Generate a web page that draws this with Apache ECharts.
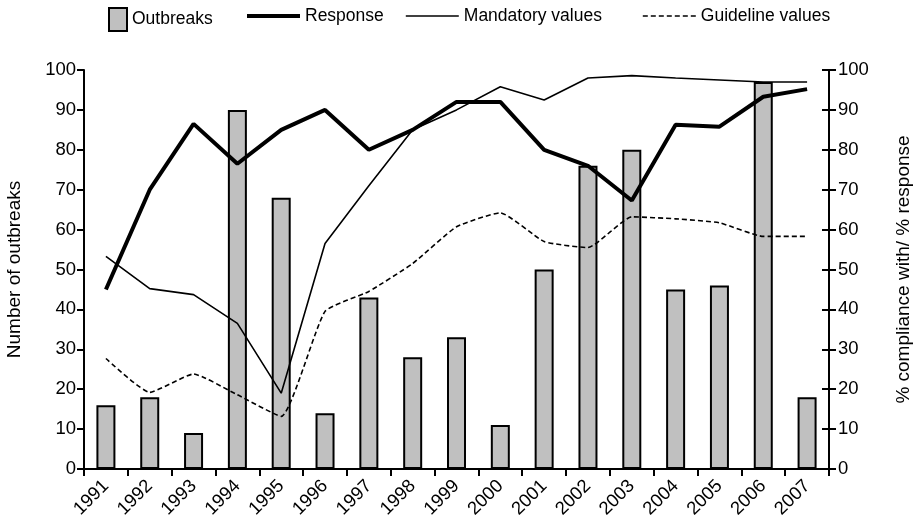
<!DOCTYPE html>
<html>
<head>
<meta charset="utf-8">
<script src="https://cdn.jsdelivr.net/npm/echarts@6/dist/echarts.min.js"></script>
<style>html,body{margin:0;padding:0;background:#fff}#c{width:914px;height:530px}</style>
</head>
<body>
<div id="c"></div>
<script>
const years = ['1991','1992','1993','1994','1995','1996','1997','1998','1999','2000','2001','2002','2003','2004','2005','2006','2007'];
const outbreaks = [16, 18, 9, 90, 68, 14, 43, 28, 33, 11, 50, 76, 80, 45, 46, 97, 18];
const response = [45, 70, 86.5, 76.5, 85, 90, 80, 85, 92, 92, 80, 76, 67.3, 86.3, 85.8, 93.3, 95.2];
const mandatory = [53.3, 45.2, 43.7, 36.5, 19, 56.5, 71, 85, 90, 95.8, 92.5, 98, 98.6, 98, 97.5, 97, 97];
const guideline = [27.7, 19.2, 23.8, 18.6, 13.2, 39.5, 44.5, 51.5, 60.7, 64.2, 57, 55.5, 63.2, 62.7, 61.7, 58.3, 58.3];
const yTicks = [0,10,20,30,40,50,60,70,80,90,100];

const FONT = 'Liberation Sans';
const chart = echarts.init(document.getElementById('c'), null, {renderer: 'canvas'});
const txt = {color: '#000', fontFamily: FONT, fontSize: 18.5};
const legendBase = {top: 2, itemGap: 10, textStyle: {color: '#000', fontFamily: FONT, fontSize: 17.5}, selectedMode: false,
  itemStyle: {opacity: 0, borderWidth: 0}, itemWidth: 53, itemHeight: 14};

chart.setOption({
  animation: false,
  backgroundColor: '#fff',
  legend: [
    {left: 103, top: 2, itemWidth: 18, itemHeight: 23, itemGap: 10, selectedMode: false,
     textStyle: {color: '#000', fontFamily: FONT, fontSize: 17.5},
     data: [{name: 'Outbreaks', icon: 'rect'}]},
    Object.assign({}, legendBase, {left: 240, lineStyle: {width: 4, color: '#000', type: 'solid'}, data: ['Response']}),
    Object.assign({}, legendBase, {left: 400, lineStyle: {width: 1.6, color: '#000', type: 'solid'}, data: ['Mandatory values']}),
    Object.assign({}, legendBase, {left: 637, lineStyle: {width: 1.6, color: '#000', type: [5, 3]}, data: ['Guideline values']})
  ],
  grid: {left: 84, right: 85, top: 70, bottom: 61, containLabel: false, outerBoundsMode: 'none'},
  xAxis: {
    type: 'category',
    data: years,
    boundaryGap: true,
    axisLine: {lineStyle: {color: '#000', width: 2}},
    axisTick: {show: true, length: 7, lineStyle: {color: '#000', width: 2}},
    axisLabel: Object.assign({}, txt, {rotate: 45, margin: 14, interval: 0}),
    splitLine: {show: false}
  },
  yAxis: [
    {
      type: 'value', min: 0, max: 100, interval: 10, position: 'left',
      name: 'Number of outbreaks', nameLocation: 'middle', nameGap: 60,
      nameTextStyle: {color: '#000', fontFamily: FONT, fontSize: 19},
      axisLine: {show: true, lineStyle: {color: '#000', width: 2}},
      axisTick: {show: true, length: 7, lineStyle: {color: '#000', width: 2}},
      axisLabel: Object.assign({}, txt, {margin: 8, formatter: v => yTicks.includes(v) ? String(v) : ''}),
      splitLine: {show: false}
    },
    {
      type: 'value', min: 0, max: 100, interval: 10, position: 'right',
      name: '% compliance with/ % response', nameLocation: 'middle', nameGap: 65, nameRotate: 90,
      nameTextStyle: {color: '#000', fontFamily: FONT, fontSize: 19},
      axisLine: {show: true, lineStyle: {color: '#000', width: 2}},
      axisTick: {show: true, length: 7, lineStyle: {color: '#000', width: 2}},
      axisLabel: Object.assign({}, txt, {margin: 9}),
      splitLine: {show: false}
    },
    {
      type: 'value', min: 0, max: 100, interval: 10, position: 'right',
      axisLine: {show: false},
      axisTick: {show: true, inside: true, length: 7, lineStyle: {color: '#000', width: 2}},
      axisLabel: {show: false},
      splitLine: {show: false}
    }
  ],
  series: [
    {
      name: 'Outbreaks', type: 'bar', data: outbreaks, yAxisIndex: 0, barWidth: 19,
      itemStyle: {color: '#c0c0c0', borderColor: '#000', borderWidth: 2}
    },
    {
      name: 'Response', type: 'line', data: response, yAxisIndex: 1, symbol: 'none',
      lineStyle: {color: '#000', width: 4}, itemStyle: {color: '#000'}, z: 5
    },
    {
      name: 'Mandatory values', type: 'line', data: mandatory, yAxisIndex: 1, symbol: 'none',
      lineStyle: {color: '#000', width: 1.6}, itemStyle: {color: '#000'}, z: 4
    },
    {
      name: 'Guideline values', type: 'line', data: guideline, yAxisIndex: 1, symbol: 'none', smooth: 0.15,
      lineStyle: {color: '#000', width: 1.6, type: [5, 3]}, itemStyle: {color: '#000'}, z: 4
    }
  ]
});
</script>
</body>
</html>
